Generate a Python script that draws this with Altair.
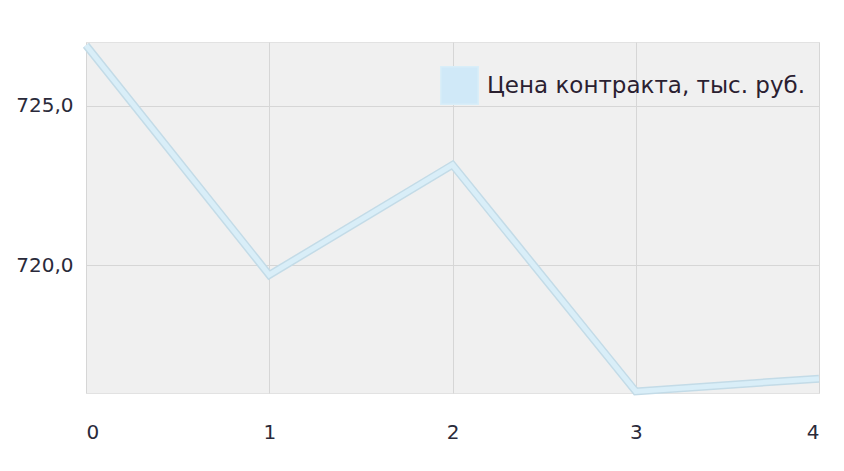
import altair as alt
import pandas as pd

x_vals = [0, 1, 2, 3, 4]
prices = [726.9, 719.7, 723.15, 716.05, 716.45]
series_name = "Цена контракта, тыс. руб."
y_ticks = [720, 725]

df = pd.DataFrame({"x": x_vals, "price": prices, "series": [series_name] * len(x_vals)})

x_enc = alt.X("x:Q", scale=alt.Scale(domain=[0, 4], nice=False),
              axis=alt.Axis(values=x_vals, format="d", title=None, ticks=False,
                            domain=False, labelPadding=29, labelFontSize=20,
                            labelColor="#2a2a3a", gridColor="#d6d6d6",
                            labelFont="DejaVu Sans"))
y_enc = alt.Y("price:Q", scale=alt.Scale(domain=[716, 727], nice=False, zero=False),
              axis=alt.Axis(values=y_ticks, title=None, ticks=False, domain=False,
                            labelExpr="replace(format(datum.value, '.1f'), '.', ',')",
                            labelPadding=13, labelFontSize=20, labelColor="#2a2a3a",
                            gridColor="#d6d6d6", labelFont="DejaVu Sans"))

shadow = alt.Chart(df).mark_line(strokeWidth=8, color="#c3dbe7", strokeJoin="miter").encode(
    x=x_enc, y=y_enc)

main = alt.Chart(df).mark_line(strokeWidth=5, strokeJoin="miter").encode(
    x=x_enc, y=y_enc,
    color=alt.Color("series:N", scale=alt.Scale(range=["#d9eef8"]),
                    legend=alt.Legend(title=None, orient="none", legendX=354, legendY=24,
                                      symbolType="square", symbolSize=1400,
                                      symbolFillColor="#d0e9f8", symbolStrokeColor="#b3ccda",
                                      symbolStrokeWidth=1.5, labelFontSize=23,
                                      labelFont="DejaVu Sans", labelColor="#2a2030",
                                      labelOffset=8, labelLimit=500, padding=0)))

chart = (shadow + main).properties(
    width=733, height=351,
    autosize=alt.AutoSizeParams(type="none"),
    padding={"left": 78, "top": 34, "right": 17, "bottom": 70},
    background="white",
).configure_view(fill="#f0f0f0", stroke="#e2e2e2", strokeWidth=1)

chart.save("out.html", embed_options={"renderer": "svg", "actions": False})
